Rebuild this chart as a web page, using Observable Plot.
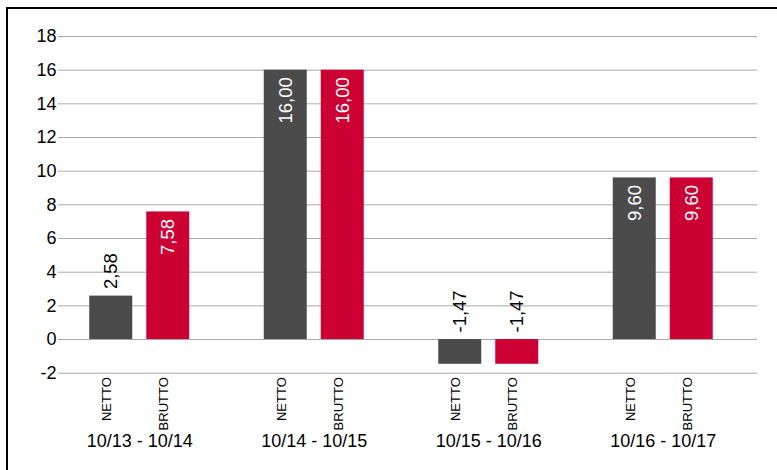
<!DOCTYPE html>
<html>
<head>
<meta charset="utf-8">
<script src="https://cdn.jsdelivr.net/npm/d3@7"></script>
<script src="https://cdn.jsdelivr.net/npm/@observablehq/plot@0.6"></script>
<style>
  html, body { margin: 0; padding: 0; background: #fff; }
  #wrap { position: relative; width: 777px; height: 470px; overflow: hidden; font-family: "Liberation Sans", Arial, Helvetica, sans-serif; }
  #wrap svg { position: absolute; left: 0; top: 0; }
  #frame { position: absolute; left: 6px; top: 7px; width: 900px; height: 600px; border-left: 2px solid #000; border-top: 2px solid #000; pointer-events: none; }
</style>
</head>
<body>
<div id="wrap"><div id="frame"></div></div>
<script>
const periods = ["10/13 - 10/14", "10/14 - 10/15", "10/15 - 10/16", "10/16 - 10/17"];
const types = ["NETTO", "BRUTTO"];
const netto = [2.58, 16.00, -1.47, 9.60];
const brutto = [7.58, 16.00, -1.47, 9.60];
const yTicks = [-2, 0, 2, 4, 6, 8, 10, 12, 14, 16, 18];
const colors = ["#4b4b4b", "#cc0033"];

const rows = [];
periods.forEach((p, i) => {
  rows.push({period: p, type: "NETTO", value: netto[i]});
  rows.push({period: p, type: "BRUTTO", value: brutto[i]});
});
const fmt = v => v.toFixed(2).replace(".", ",");
const inside = rows.filter(d => d.value >= 5);
const outside = rows.filter(d => d.value < 5);
const labelRows = [];
periods.forEach(p => types.forEach(t => labelRows.push({period: p, type: t})));

const W = 777, H = 470, MT = 36, MB = 97.3;
const font = "'Liberation Sans', Arial, Helvetica, sans-serif";

const gridPlot = Plot.plot({
  width: W, height: H,
  marginTop: MT, marginBottom: MB, marginLeft: 58, marginRight: 20,
  style: {fontFamily: font, background: "white", overflow: "visible"},
  x: {axis: null},
  y: {domain: [-2, 18], axis: null},
  marks: [
    Plot.ruleY(yTicks, {y: d => d, stroke: "#a9a9a9", strokeWidth: 1}),
    Plot.text(yTicks, {y: d => d, text: d => String(d), frameAnchor: "left", textAnchor: "end", dx: -2, fontSize: 18, fill: "#000"})
  ]
});

const barPlot = Plot.plot({
  width: W, height: H,
  marginTop: MT, marginBottom: MB, marginLeft: 52, marginRight: 27,
  style: {fontFamily: font, background: "transparent", overflow: "visible"},
  fx: {domain: periods, padding: 0, round: false, axis: null, label: null},
  x: {domain: types, paddingInner: 14 / 57, paddingOuter: 37.25 / 57, round: false, axis: null, label: null},
  y: {domain: [-2, 18], axis: null},
  color: {domain: types, range: colors},
  marks: [
    Plot.barY(rows, {fx: "period", x: "type", y: "value", fill: "type"}),
    Plot.text(inside, {fx: "period", x: "type", y: "value", text: d => fmt(d.value), rotate: -90, textAnchor: "end", dy: 7, fill: "white", fontSize: 18.5}),
    Plot.text(outside, {fx: "period", x: "type", y: d => Math.max(0, d.value), text: d => fmt(d.value), rotate: -90, textAnchor: "start", dy: -7, fill: "black", fontSize: 18.5}),
    Plot.text(labelRows, {fx: "period", x: "type", frameAnchor: "bottom", text: "type", rotate: -90, textAnchor: "end", dy: 4, fill: "black", fontSize: 13}),
    Plot.text(periods, {fx: d => d, frameAnchor: "bottom", text: d => d, dy: 73.5, fill: "black", fontSize: 18})
  ]
});

const wrap = document.getElementById("wrap");
wrap.insertBefore(barPlot, wrap.firstChild);
wrap.insertBefore(gridPlot, wrap.firstChild);
</script>
</body>
</html>
